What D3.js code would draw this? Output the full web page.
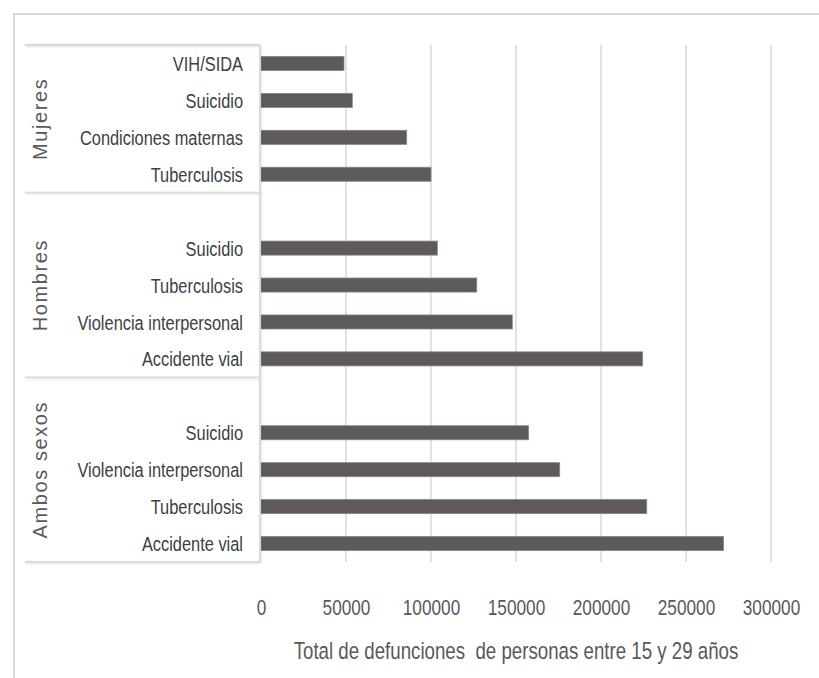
<!DOCTYPE html>
<html>
<head>
<meta charset="utf-8">
<script src="https://cdn.jsdelivr.net/npm/d3@7"></script>
<style>
  html, body { margin: 0; padding: 0; background: #fff; }
  svg { display: block; }
  text { font-family: "Liberation Sans", Arial, sans-serif; }
</style>
</head>
<body>
<div id="chart"></div>
<script>
// ── datos ────────────────────────────────────────────────────────────────
// grupos de arriba a abajo; "" = categoría vacía (hueco del gráfico original)
const grupos = ["Mujeres", "Hombres", "Ambos sexos"];

const mujeresCausas  = ["VIH/SIDA", "Suicidio", "Condiciones maternas", "Tuberculosis"];
const mujeresValores = [48800, 53700, 85700, 100000];

const hombresCausas  = ["", "Suicidio", "Tuberculosis", "Violencia interpersonal", "Accidente vial"];
const hombresValores = [null, 103700, 126900, 147800, 224500];

const ambosCausas    = ["", "Suicidio", "Violencia interpersonal", "Tuberculosis", "Accidente vial"];
const ambosValores   = [null, 157400, 175700, 226900, 272000];

const xTicks = [0, 50000, 100000, 150000, 200000, 250000, 300000];
const xTitulo = "Total de defunciones\u00a0 de personas entre 15 y 29 años";

// ── filas ────────────────────────────────────────────────────────────────
const causasPorGrupo  = [mujeresCausas, hombresCausas, ambosCausas];
const valoresPorGrupo = [mujeresValores, hombresValores, ambosValores];

const filas = [];
grupos.forEach((g, gi) => {
  causasPorGrupo[gi].forEach((c, i) => {
    filas.push({ key: g + "|" + i, grupo: g, causa: c, valor: valoresPorGrupo[gi][i] });
  });
});

// ── lienzo ───────────────────────────────────────────────────────────────
const W = 819, H = 678;
const plot = { left: 261, right: 771, top: 45, bottom: 562 };
const boxLeft = 25;
const NARROW = 0.82;   // "Narrow" = Arial comprimida horizontalmente

const svg = d3.select("#chart").append("svg")
  .attr("width", W).attr("height", H);

const defs = svg.append("defs");
const sh = defs.append("filter").attr("id", "sombra")
  .attr("x", "-5%").attr("y", "-50%").attr("width", "110%").attr("height", "200%");
sh.append("feDropShadow").attr("dx", 0.8).attr("dy", 0.8).attr("stdDeviation", 0.8)
  .attr("flood-color", "rgba(0,0,0,.12)");

// marco exterior
svg.append("rect")
  .attr("x", 14).attr("y", 14).attr("width", W + 20).attr("height", H + 20)
  .attr("fill", "none").attr("stroke", "#d9d9d9").attr("stroke-width", 2);

const x = d3.scaleLinear().domain([0, 300000]).range([plot.left, plot.right]);
const y = d3.scaleBand()
  .domain(filas.map(d => d.key))
  .range([plot.top, plot.bottom])
  .paddingInner(0.62).paddingOuter(0.31);

// ── rejilla ──
svg.append("g").selectAll("line")
  .data(xTicks.filter(t => t > 0))
  .enter().append("line")
  .attr("x1", d => x(d)).attr("x2", d => x(d))
  .attr("y1", plot.top).attr("y2", plot.bottom)
  .attr("stroke", "#d9d9d9").attr("stroke-width", 1.5);

// ── barras ──
svg.append("g").selectAll("rect")
  .data(filas.filter(d => d.valor != null))
  .enter().append("rect")
  .attr("x", x(0))
  .attr("y", d => y(d.key))
  .attr("width", d => x(d.valor) - x(0))
  .attr("height", y.bandwidth())
  .attr("fill", "#5e5a5b")
  .attr("stroke", "#868384").attr("stroke-width", 0.8);

// ── caja de etiquetas (multinivel) ──
const limites = [plot.top];
let acc = 0;
causasPorGrupo.forEach(cs => {
  acc += cs.length;
  limites.push(plot.top + acc * y.step());
});

const caja = svg.append("g").attr("filter", "url(#sombra)");
caja.selectAll("line.sep")
  .data(limites)
  .enter().append("line")
  .attr("class", "sep")
  .attr("x1", boxLeft).attr("x2", plot.left - 1)
  .attr("y1", d => d).attr("y2", d => d)
  .attr("stroke", "#d9d9d9").attr("stroke-width", 1.8);
caja.append("line")
  .attr("x1", plot.left - 1).attr("x2", plot.left - 1)
  .attr("y1", plot.top).attr("y2", plot.bottom)
  .attr("stroke", "#d9d9d9").attr("stroke-width", 1.8);

// etiquetas de causa
svg.append("g").selectAll("text")
  .data(filas.filter(d => d.causa))
  .enter().append("text")
  .attr("transform", d => `translate(243,${y(d.key) + y.bandwidth() / 2}) scale(${NARROW},1.05)`)
  .attr("dy", "0.36em")
  .attr("text-anchor", "end")
  .attr("font-size", 20)
  .attr("fill", "#404040")
  .text(d => d.causa);

// etiquetas de grupo (giradas)
svg.append("g").selectAll("text")
  .data(grupos)
  .enter().append("text")
  .attr("transform", (d, i) => `translate(47,${(limites[i] + limites[i + 1]) / 2}) rotate(-90)`)
  .attr("text-anchor", "middle")
  .attr("font-size", 20)
  .attr("letter-spacing", 1.6)
  .attr("fill", "#595959")
  .text(d => d);

// ── eje x ──
const ax = svg.append("g")
  .attr("transform", `translate(0,${plot.bottom})`)
  .call(d3.axisBottom(x).tickValues(xTicks).tickSize(0).tickPadding(36).tickFormat(d3.format("d")));
ax.select(".domain").remove();
ax.selectAll("text")
  .attr("transform", `scale(${NARROW},1.05)`)
  .attr("font-size", 21)
  .attr("font-family", null)
  .attr("fill", "#595959");

svg.append("text")
  .attr("transform", `translate(${(plot.left + plot.right) / 2},659) scale(${NARROW},1.05)`)
  .attr("text-anchor", "middle")
  .attr("font-size", 22.8)
  .attr("fill", "#595959")
  .text(xTitulo);
</script>
</body>
</html>
